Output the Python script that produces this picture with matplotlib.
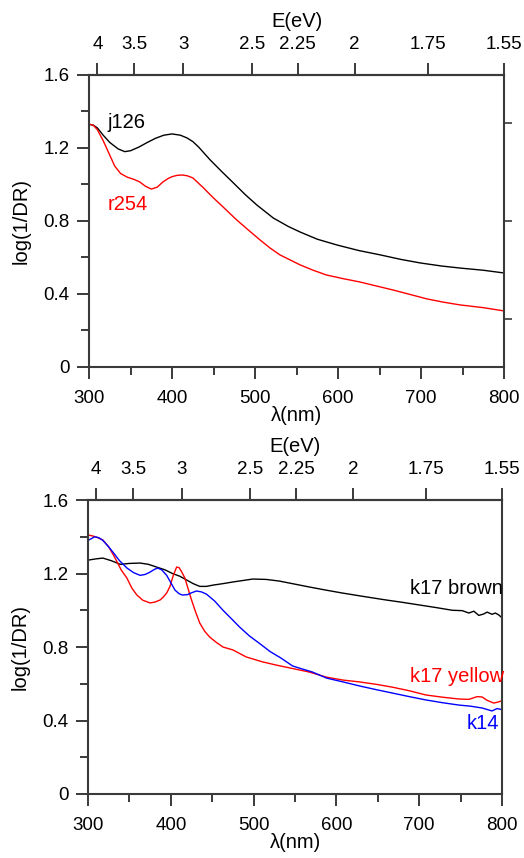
import matplotlib.pyplot as plt
import numpy as np

plt.rcParams["font.family"] = ["Liberation Sans", "DejaVu Sans"]
plt.rcParams["font.size"] = 13.5

# panel 1 : j126 / r254
wl_j126 = [300, 305, 310, 317, 325, 335, 343, 350, 360, 370, 380, 390, 400, 410, 418,
           425, 432, 446, 460, 474, 488, 502, 522, 540, 554, 575, 599, 625, 651, 675,
           699, 725, 747, 775, 800]
val_j126 = [1.33, 1.325, 1.31, 1.27, 1.23, 1.195, 1.18, 1.185, 1.205, 1.23, 1.253, 1.27,
            1.277, 1.27, 1.255, 1.235, 1.205, 1.134, 1.07, 1.008, 0.945, 0.888, 0.816,
            0.77, 0.74, 0.70, 0.668, 0.638, 0.614, 0.59, 0.57, 0.553, 0.542, 0.53, 0.515]

wl_r254 = [300, 305, 310, 317, 324, 331, 338, 346, 354, 361, 368, 375, 382, 389, 395,
           400, 406, 412, 418, 425, 437, 449, 463, 478, 492, 506, 518, 530, 554, 570,
           586, 606, 626, 646, 666, 687, 707, 727, 747, 775, 800]
val_r254 = [1.33, 1.325, 1.30, 1.24, 1.17, 1.10, 1.06, 1.04, 1.028, 1.014, 0.99, 0.975,
            0.985, 1.014, 1.032, 1.043, 1.05, 1.052, 1.048, 1.036, 0.985, 0.93, 0.87,
            0.805, 0.75, 0.696, 0.652, 0.614, 0.56, 0.53, 0.504, 0.484, 0.466, 0.444,
            0.422, 0.397, 0.373, 0.355, 0.34, 0.325, 0.307]

# panel 2 : k17 brown / k17 yellow / k14
wl_brown = [300, 310, 318, 328, 339, 350, 363, 373, 383, 393, 402, 411, 419, 427, 435,
            443, 451, 463, 475, 487, 499, 515, 531, 549, 567, 587, 607, 633, 660, 680,
            700, 720, 740, 752, 760, 766, 772, 778, 782, 788, 792, 796, 799]
val_brown = [1.273, 1.28, 1.284, 1.27, 1.25, 1.255, 1.257, 1.25, 1.235, 1.22, 1.2, 1.185,
             1.165, 1.145, 1.13, 1.13, 1.137, 1.145, 1.154, 1.162, 1.17, 1.168, 1.159,
             1.143, 1.127, 1.11, 1.094, 1.075, 1.056, 1.043, 1.029, 1.015, 1.0, 0.998,
             0.985, 0.995, 0.972, 0.98, 0.99, 0.978, 0.985, 0.975, 0.963]

wl_yellow = [300, 306, 312, 318, 325, 332, 340, 347, 353, 359, 366, 375, 381, 387, 391,
             395, 399, 403, 407, 410, 413, 417, 421, 425, 430, 435, 441, 447, 455, 463,
             475, 491, 510, 527, 547, 567, 588, 608, 628, 648, 667, 688, 708, 728, 748,
             760, 770, 776, 782, 790, 795, 799]
val_yellow = [1.41, 1.404, 1.395, 1.382, 1.345, 1.29, 1.22, 1.175, 1.12, 1.083, 1.055,
              1.04, 1.045, 1.056, 1.072, 1.094, 1.13, 1.19, 1.235, 1.232, 1.21, 1.175,
              1.115, 1.056, 0.99, 0.93, 0.885, 0.854, 0.825, 0.80, 0.784, 0.746, 0.72,
              0.702, 0.683, 0.664, 0.636, 0.62, 0.61, 0.597, 0.582, 0.562, 0.539, 0.527,
              0.517, 0.515, 0.53, 0.528, 0.51, 0.495, 0.5, 0.506]

wl_k14 = [300, 304, 308, 313, 318, 324, 330, 338, 347, 355, 363, 369, 375, 380, 384,
          389, 395, 400, 405, 410, 414, 420, 425, 431, 437, 443, 453, 463, 473, 483,
          495, 507, 520, 533, 547, 559, 571, 588, 608, 628, 648, 667, 688, 708, 728,
          748, 762, 776, 782, 788, 794, 799]
val_k14 = [1.38, 1.39, 1.40, 1.395, 1.38, 1.35, 1.317, 1.27, 1.23, 1.205, 1.19, 1.195,
           1.208, 1.222, 1.23, 1.22, 1.19, 1.15, 1.11, 1.09, 1.083, 1.085, 1.095, 1.105,
           1.1, 1.088, 1.05, 1.0, 0.955, 0.909, 0.86, 0.82, 0.775, 0.74, 0.697, 0.68,
           0.664, 0.631, 0.61, 0.588, 0.568, 0.55, 0.53, 0.512, 0.497, 0.484, 0.478,
           0.468, 0.46, 0.452, 0.465, 0.46]

e_ticks = [4, 3.5, 3, 2.5, 2.25, 2, 1.75, 1.55]
e_labels = ["4", "3.5", "3", "2.5", "2.25", "2", "1.75", "1.55"]
spine_col = "#3a3a3a"
lab_size = 14.5


def style_axes(ax):
    ax.set_xlim(300, 800)
    ax.set_ylim(0, 1.6)
    ax.set_xticks(np.arange(300, 801, 100))
    ax.set_xticks(np.arange(350, 800, 100), minor=True)
    ax.set_yticks([0, 0.4, 0.8, 1.2, 1.6])
    ax.set_yticklabels(["0", "0.4", "0.8", "1.2", "1.6"])
    ax.set_yticks(np.arange(0.2, 1.6, 0.4), minor=True)
    ax.tick_params(which="major", direction="out", length=8.6, width=1.4, color=spine_col)
    ax.tick_params(which="minor", direction="out", length=5.5, width=1.4, color=spine_col)
    ax.tick_params(axis="x", which="both", bottom=True, top=False, pad=8)
    ax.tick_params(axis="y", which="both", left=True, right=False, pad=5.5)
    for s in ax.spines.values():
        s.set_color(spine_col)
        s.set_linewidth(1.5)
    ax.set_xlabel("λ(nm)", labelpad=-1, fontsize=lab_size)
    ax.set_ylabel("log(1/DR)", fontsize=lab_size)
    sec = ax.secondary_xaxis("top", functions=(lambda x: 1240.0 / x, lambda e: 1240.0 / e))
    sec.set_xticks(e_ticks, labels=e_labels)
    sec.tick_params(direction="out", length=8.6, width=1.4, color=spine_col, pad=7.5)
    sec.minorticks_off()
    sec.spines["top"].set_color(spine_col)
    sec.spines["top"].set_linewidth(1.5)
    sec.set_xlabel("E(eV)", labelpad=6, fontsize=lab_size)
    return sec


fig = plt.figure(figsize=(5.24, 8.58), dpi=100)

ax1 = fig.add_axes([0.170, 0.5723, 0.792, 0.3403])
ax1.plot(wl_j126, val_j126, color="black", lw=1.0)
ax1.plot(wl_r254, val_r254, color="red", lw=1.0)
style_axes(ax1)
ax1.text(322, 1.31, "j126", color="black", fontsize=lab_size)
ax1.text(322, 0.86, "r254", color="red", fontsize=lab_size)
ax1.yaxis.set_label_coords(-0.142, 0.5)

# right-hand unlabeled ticks of the upper panel
axr = ax1.twinx()
axr.set_ylim(0, 1.6)
axr.set_yticks([0.263, 0.8, 1.337])
axr.set_yticklabels([])
axr.tick_params(direction="out", length=6, width=1.2, color=spine_col)
for s in axr.spines.values():
    s.set_visible(False)

ax2 = fig.add_axes([0.168, 0.0746, 0.790, 0.3426])
ax2.plot(wl_brown, val_brown, color="black", lw=1.0)
ax2.plot(wl_yellow, val_yellow, color="red", lw=1.0)
ax2.plot(wl_k14, val_k14, color="blue", lw=1.0)
style_axes(ax2)
ax2.text(801, 1.09, "k17 brown", color="black", ha="right", fontsize=lab_size)
ax2.text(803, 0.61, "k17 yellow", color="red", ha="right", fontsize=lab_size)
ax2.text(797, 0.355, "k14", color="blue", ha="right", fontsize=lab_size)
ax2.yaxis.set_label_coords(-0.142, 0.5)

fig.savefig("out.png", dpi=100)
